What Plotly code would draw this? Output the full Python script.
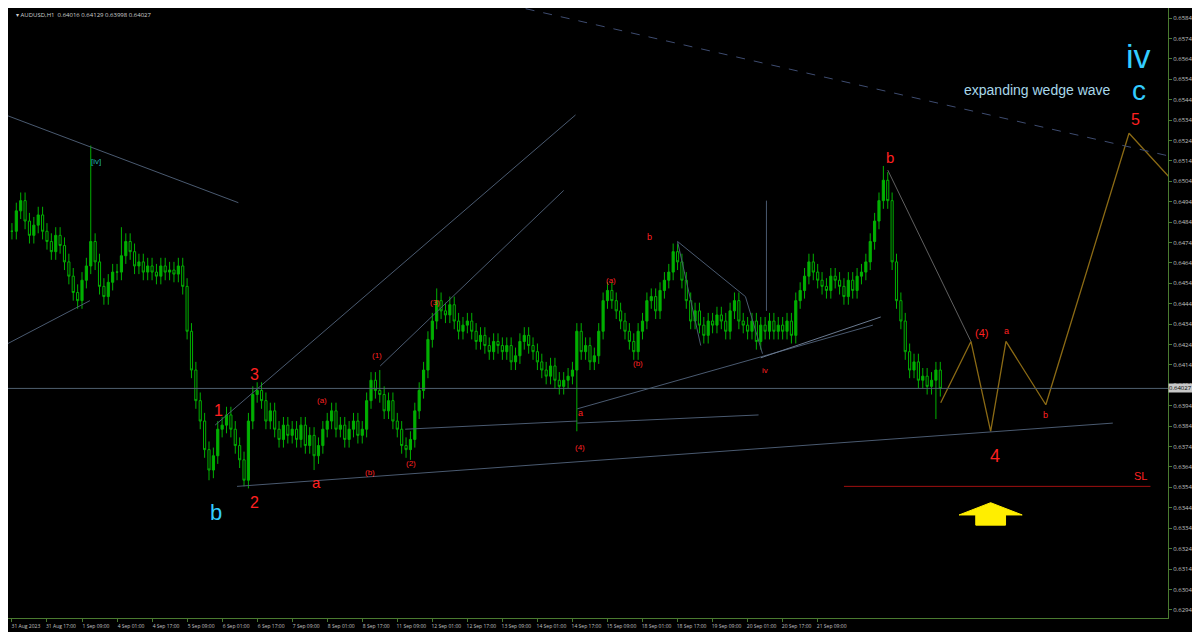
import plotly.graph_objects as go

# H1 chart resampled to 2-hour closes
closes = [
    .6480, .6490, .6495, .6485, .6478, .6483, .6488, .6480,
    .6475, .6470, .6478, .6473, .6465, .6458, .6450, .6446,
    .6456, .6463, .6475, .6465, .6453, .6448, .6455, .6460,
    .6460, .6468, .6475, .6470, .6463, .6465, .6460, .6463,
    .6460, .6458, .6463, .6460, .6461, .6459, .6463, .6453,
    .6431, .6412, .6397, .6387, .6373, .6363, .6370, .6383,
    .6385, .6390, .6383, .6375, .6368, .6358, .6387, .6400,
    .6402, .6397, .6387, .6392, .6383, .6378, .6385, .6380,
    .6383, .6378, .6385, .6375, .6380, .6370, .6375, .6383,
    .6387, .6392, .6383, .6385, .6378, .6383, .6387, .6380,
    .6383, .6397, .6407, .6402, .6400, .6392, .6397, .6387,
    .6383, .6375, .6373, .6378, .6392, .6402, .6412, .6427,
    .6436, .6446, .6441, .6439, .6444, .6436, .6431, .6434,
    .6436, .6431, .6426, .6429, .6424, .6421, .6426, .6424,
    .6421, .6424, .6416, .6419, .6426, .6429, .6424, .6421,
    .6416, .6412, .6409, .6414, .6407, .6404, .6407, .6409,
    .6412, .6431, .6421, .6424, .6416, .6419, .6431, .6446,
    .6451, .6446, .6441, .6436, .6431, .6426, .6421, .6431,
    .6436, .6446, .6448, .6441, .6451, .6456, .6460, .6470,
    .6465, .6456, .6446, .6436, .6441, .6434, .6429, .6436,
    .6434, .6439, .6436, .6431, .6441, .6446, .6436, .6434,
    .6431, .6436, .6426, .6434, .6431, .6436, .6431, .6434,
    .6431, .6436, .6429, .6446, .6451, .6458, .6465, .6460,
    .6456, .6453, .6451, .6458, .6456, .6453, .6448, .6456,
    .6451, .6458, .6460, .6465, .6475, .6485, .6495, .6505,
    .6495, .6465, .6446, .6436, .6421, .6412, .6416, .6407,
    .6409, .6404, .6407, .6412, .6403,
]
high_spikes = {18: .6522, 84: .6412, 97: .6452, 199: .6512, 25: .6482}
low_spikes = {45: .6358, 53: .6355, 69: .6363, 91: .6368, 129: .6382, 211: .6388}
WICK = 0.0004

tick_labels = ["31 Aug 2023", "31 Aug 17:00", "1 Sep 09:00", "4 Sep 01:00", "4 Sep 17:00",
               "5 Sep 09:00", "6 Sep 01:00", "6 Sep 17:00", "7 Sep 09:00", "8 Sep 01:00",
               "8 Sep 17:00", "11 Sep 09:00", "12 Sep 01:00", "12 Sep 17:00", "13 Sep 09:00",
               "14 Sep 01:00", "14 Sep 17:00", "15 Sep 09:00", "18 Sep 01:00", "18 Sep 17:00",
               "19 Sep 09:00", "20 Sep 01:00", "20 Sep 17:00", "21 Sep 09:00"]
price_ticks = [0.65845 - 0.001 * k for k in range(30)]

# trend lines: (x0, p0, x1, p1, color, dash)
trend_lines = [
    (109.3, .6593, 266, .65160, "#3e4c70", "dash"),
    (-2.7, .6538, 51.7, .6494, "#4a5a70", "solid"),
    (-2.7, .6423, 17.8, .6446, "#4a5a70", "solid"),
    (46.4, .6385, 128.7, .6537, "#4a5a70", "solid"),
    (84.1, .6414, 126, .6500, "#4a5a70", "solid"),
    (51.4, .6355, 251.4, .6386, "#4a5a70", "solid"),
    (89.8, .6383, 129.1, .6387, "#4a5a70", "solid"),
    (129.1, .6386, 170.5, .6390, "#4a5a70", "solid"),
    (129.1, .6393, 196.6, .6434, "#4a5a70", "solid"),
    (171.0, .6418, 198.4, .6438, "#6a7a90", "solid"),
    (172.3, .6495, 172.3, .6441, "#4a5a70", "solid"),
    (152.0, .6475, 157.3, .6424, "#4a5a70", "solid"),
    (152.0, .6475, 167.5, .6448, "#4a5a70", "solid"),
    (167.5, .6448, 171.4, .6420, "#4a5a70", "solid"),
    (200.0, .6510, 219.0, .6426, "#606060", "solid"),
]
proj_x = [212.1, 219.0, 223.5, 227.0, 236.1, 255.1, 265.8]
proj_p = [.6396, .6426, .6382, .6426, .6395, .6528, .6503]

# labels: (x, price, text, color, size)
labels = [
    (19.2, .6514, "[iv]", "#20b2aa", 8),
    (46.6, .6342, "b", "#33ccff", 22),
    (47.1, .6392, "1", "#ff2020", 16),
    (55.3, .6410, "3", "#ff2020", 16),
    (55.3, .6347, "2", "#ff2020", 16),
    (69.5, .6357, "a", "#ff2020", 15),
    (70.8, .6397, "(a)", "#ff2020", 8),
    (81.8, .6362, "(b)", "#ff2020", 8),
    (83.4, .6419, "(1)", "#ff2020", 8),
    (91.2, .6366, "(2)", "#ff2020", 8),
    (96.5, .6445, "(3)", "#ff2020", 8),
    (129.8, .6391, "a", "#ff2020", 9),
    (129.8, .6374, "(4)", "#ff2020", 8),
    (136.9, .6456, "(a)", "#ff2020", 8),
    (142.9, .6415, "(b)", "#ff2020", 8),
    (145.6, .6477, "b", "#ff2020", 9),
    (171.9, .6412, "iv", "#ff2020", 8),
    (200.5, .6516, "b", "#ff2020", 15),
    (221.3, .6430, "(4)", "#ff2020", 11),
    (227.2, .6431, "a", "#ff2020", 9),
    (236.1, .6390, "b", "#ff2020", 9),
    (224.5, .6370, "4", "#ff2020", 18),
    (256.5, .6535, "5", "#ff2020", 16),
    (257.8, .6360, "SL", "#ff2020", 11),
    (257.3, .6566, "iv", "#33ccff", 34),
    (257.3, .6549, "c", "#33ccff", 28),
]

n = len(closes)
opens = [closes[0]] + closes[:-1]
highs = [high_spikes.get(i, max(o, c) + WICK) for i, (o, c) in enumerate(zip(opens, closes))]
lows = [low_spikes.get(i, min(o, c) - WICK) for i, (o, c) in enumerate(zip(opens, closes))]

fig = go.Figure()
fig.add_trace(go.Candlestick(
    x=list(range(n)), open=opens, high=highs, low=lows, close=closes,
    increasing=dict(line=dict(color="#00b000", width=1), fillcolor="#00b000"),
    decreasing=dict(line=dict(color="#00b000", width=1), fillcolor="#000000"),
    whiskerwidth=0, showlegend=False, hoverinfo="skip",
))

for x0, p0, x1, p1, col, dash in trend_lines:
    fig.add_shape(type="line", x0=x0, y0=p0, x1=x1, y1=p1,
                  line=dict(color=col, width=1, dash=dash))

fig.add_trace(go.Scatter(x=proj_x, y=proj_p, mode="lines",
                         line=dict(color="#8b6a14", width=1.3), showlegend=False))

# current price and stop loss
fig.add_shape(type="line", x0=0, x1=1, xref="paper", y0=closes[-1], y1=closes[-1],
              line=dict(color="#506070", width=1))
fig.add_shape(type="line", x0=190, x1=260, y0=.6355, y1=.6355,
              line=dict(color="#a01010", width=1))

# yellow arrow
ax, atop, ahead, abot, hw, bw = 223.5, .6347, .6341, .6336, 7.2, 3.4
fig.add_shape(type="path", fillcolor="#ffee00", line=dict(color="#ffee00", width=1),
              path=f"M {ax} {atop} L {ax+hw} {ahead} L {ax+bw} {ahead} L {ax+bw} {abot} "
                   f"L {ax-bw} {abot} L {ax-bw} {ahead} L {ax-hw} {ahead} Z")

for x, p, t, col, sz in labels:
    fig.add_annotation(x=x, y=p, text=t, showarrow=False,
                       font=dict(color=col, size=sz, family="Arial"))
fig.add_annotation(x=251.5, y=.6549, text="expanding wedge wave", showarrow=False,
                   xanchor="right", font=dict(color="#a8d8ea", size=14, family="Arial"))
fig.add_annotation(x=0.005, y=0.999, xref="paper", yref="paper", xanchor="left",
                   yanchor="top", showarrow=False,
                   text="▾ AUDUSD,H1  0.64016 0.64129 0.63998 0.64027",
                   font=dict(color="#d0d0d0", size=6))
fig.add_annotation(x=1.0, y=closes[-1], xref="paper", xanchor="left", showarrow=False,
                   text="0.64027", bgcolor="#c8c8c8", borderpad=0,
                   font=dict(color="#000", size=6))

# page body adds an 8px offset, so the figure is sized to fit the window
fig.update_layout(
    width=1192, height=624, margin=dict(l=0, r=32, t=0, b=14, autoexpand=False),
    paper_bgcolor="#000000", plot_bgcolor="#000000",
    xaxis=dict(range=[-0.9, 264], tickvals=[8 * i for i in range(len(tick_labels))],
               ticktext=tick_labels, tickfont=dict(size=5, color="#c0c0c0"),
               tickangle=0, automargin=False, ticklabelshift=14,
               showgrid=False, zeroline=False, showline=True, linecolor="#4a7a30",
               mirror=True, ticks="outside", ticklen=3, tickcolor="#4a7a30",
               rangeslider=dict(visible=False)),
    yaxis=dict(range=[0.62905, 0.65894], side="right", tickvals=price_ticks,
               ticktext=[f"{v:.5f}" for v in price_ticks], automargin=False,
               tickfont=dict(size=6, color="#c0c0c0"), showgrid=False, zeroline=False,
               showline=True, linecolor="#4a7a30", mirror=True, ticks="outside",
               ticklen=3, tickcolor="#4a7a30"),
)

fig.write_html("out.html")
